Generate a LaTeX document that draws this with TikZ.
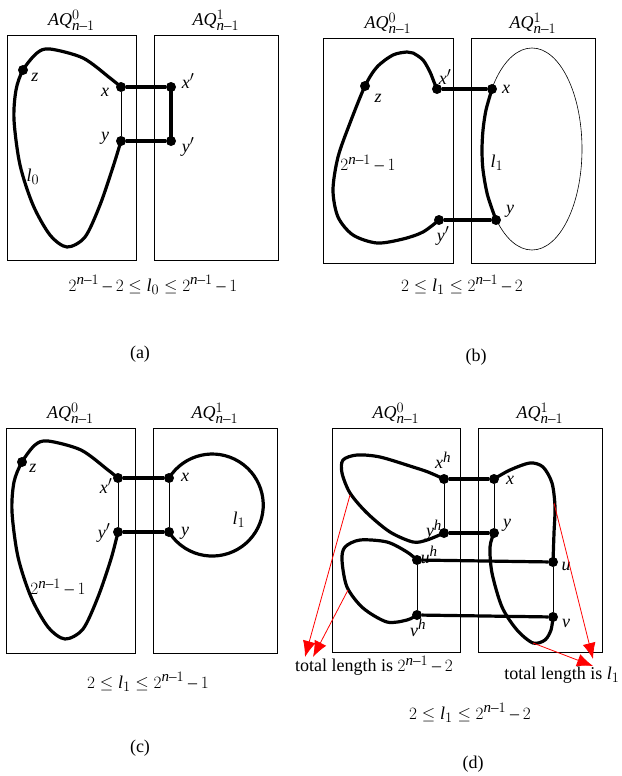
\documentclass[tikz,border=0pt]{standalone}
\usepackage{fontspec}
\setmainfont{Liberation Serif}
\usepackage[italic]{mathastext}
\usepackage{tikz}
\usetikzlibrary{arrows.meta}
\tikzset{
  halfbox/.style={draw, line width=0.8pt, inner sep=0pt},
  dot/.style={circle, fill, inner sep=0pt, minimum size=10pt},
  pathline/.style={line width=3.2pt, line join=round},
  thinline/.style={line width=0.6pt},
  lenarrow/.style={red, line width=0.8pt, -{Latex[length=16pt,width=13pt]}},
  boxtitle/.style={above=1pt},
}

\begin{document}
\begin{tikzpicture}[x=1pt, y=-1pt, every node/.style={font=\fontsize{18}{21}\selectfont}]
  \useasboundingbox (0,0) rectangle (621,776);
  % (a)
  \node[halfbox, minimum width=129pt, minimum height=225pt] (a0) at (71.5,147.5) {};
  \node[halfbox, minimum width=124pt, minimum height=225pt] (a1) at (216,147.5) {};
  \node[boxtitle] (a0-t) at (a0.north) {$AQ^0_{n-1}$};
  \node[boxtitle] (a1-t) at (a1.north) {$AQ^1_{n-1}$};
  \node[dot] (az) at (23,70) {};
  \node[dot] (ax) at (121,87) {};
  \node[dot] (ay) at (121,141) {};
  \node[dot] (axp) at (171,87) {};
  \node[dot] (ayp) at (171,141) {};
  \node (az-l) at (35,77) {$z$};
  \node (ax-l) at (105,92) {$x$};
  \node (ay-l) at (105,138) {$y$};
  \node (axp-l) at (188,81) {$x'$};
  \node (ayp-l) at (188,147) {$y'$};
  \node (al0) at (33,177) {$l_0$};
  \draw[pathline] plot[smooth] coordinates {(ax.center) (110,78) (83,58) (50,49) (37,53)
    (az.center) (16,90) (14,120) (20,165) (33,205) (50,235) (67,247) (85,237) (100,205)
    (113,167) (ay.center)};
  \draw[thinline] (ax) -- (ay);
  \draw[pathline] (ax) -- (axp);
  \draw[pathline] (ay) -- (ayp);
  \draw[pathline] (axp.center) -- (ayp.center);
  \node (acond) at (153,285) {$2^{n-1}-2\le l_0\le 2^{n-1}-1$};
  \node (acap) at (140,354) {(a)};
  % (b)
  \node[halfbox, minimum width=130pt, minimum height=225pt] (b0) at (388,150.5) {};
  \node[halfbox, minimum width=124pt, minimum height=225pt] (b1) at (533,150.5) {};
  \node[boxtitle] (b0-t) at (b0.north) {$AQ^0_{n-1}$};
  \node[boxtitle] (b1-t) at (b1.north) {$AQ^1_{n-1}$};
  \draw[thinline] (532,149) ellipse [x radius=50pt, y radius=101pt];
  \node[dot] (bz) at (365,86) {};
  \node[dot] (bxp) at (437,89) {};
  \node[dot] (bx) at (492,89) {};
  \node[dot] (by) at (496,220) {};
  \node[dot] (byp) at (439,220) {};
  \node (bz-l) at (378,98) {$z$};
  \node (bxp-l) at (445,77) {$x'$};
  \node (bx-l) at (506,89) {$x$};
  \node (by-l) at (510,211) {$y$};
  \node (byp-l) at (443,236) {$y'$};
  \node (bl1) at (497,163) {$l_1$};
  \node (b2n) at (368,163) {$2^{n-1}-1$};
  \draw[pathline] plot[smooth] coordinates {(bxp.center) (434,82) (430,72) (423,60) (413,53)
    (407,52) (393,55) (377,67) (bz.center) (350,123) (338,157) (333,190) (338,217)
    (353,235) (377,243) (403,239) (423,232) (byp.center)};
  \draw[pathline] plot[smooth] coordinates {(bx.center) (486,110) (483,130) (482,150)
    (483,170) (487.5,195) (by.center)};
  \draw[pathline] (bxp) -- (bx);
  \draw[pathline] (byp) -- (by);
  \node (bcond) at (462,285) {$2\le l_1\le 2^{n-1}-2$};
  \node (bcap) at (476,357) {(b)};
  % (c)
  \node[halfbox, minimum width=129pt, minimum height=225pt] (c0) at (70.5,540.5) {};
  \node[halfbox, minimum width=124pt, minimum height=225pt] (c1) at (215,540.5) {};
  \node[boxtitle] (c0-t) at (c0.north) {$AQ^0_{n-1}$};
  \node[boxtitle] (c1-t) at (c1.north) {$AQ^1_{n-1}$};
  \node[dot] (cz) at (22,462) {};
  \node[dot] (cxp) at (118,478) {};
  \node[dot] (cyp) at (118,532) {};
  \node[dot] (cx) at (169,478) {};
  \node[dot] (cy) at (169,532) {};
  \node (cz-l) at (33,468) {$z$};
  \node (cxp-l) at (106,486) {$x'$};
  \node (cyp-l) at (104,533) {$y'$};
  \node (cx-l) at (185,477) {$x$};
  \node (cy-l) at (185,533) {$y$};
  \node (cl1) at (239,520) {$l_1$};
  \node (c2n) at (58,587) {$2^{n-1}-1$};
  \draw[pathline] plot[smooth] coordinates {(cxp.center) (108,470) (81,450) (48,441) (35,445)
    (cz.center) (14,482) (12,512) (18,557) (31,597) (48,627) (65,639) (83,629) (98,597)
    (111,559) (cyp.center)};
  \draw[pathline] (cx.center) arc[start angle=148, end angle=-148, radius=51pt];
  \draw[thinline] (cxp) -- (cyp);
  \draw[thinline] (cx) -- (cy);
  \draw[pathline] (cxp) -- (cx);
  \draw[pathline] (cyp) -- (cy);
  \node (ccond) at (148,682) {$2\le l_1\le 2^{n-1}-1$};
  \node (ccap) at (140,748) {(c)};
  % (d)
  \node[halfbox, minimum width=128pt, minimum height=224pt] (d0) at (396,540) {};
  \node[halfbox, minimum width=124pt, minimum height=224pt] (d1) at (540,540) {};
  \node[boxtitle] (d0-t) at (d0.north) {$AQ^0_{n-1}$};
  \node[boxtitle] (d1-t) at (d1.north) {$AQ^1_{n-1}$};
  \node[dot] (dxh) at (444,479) {};
  \node[dot] (dyh) at (444,533) {};
  \node[dot] (dx) at (494,479) {};
  \node[dot] (dy) at (494,533) {};
  \node[dot] (duh) at (417,560) {};
  \node[dot] (dvh) at (417,615) {};
  \node[dot] (du) at (553,562) {};
  \node[dot] (dv) at (553,617) {};
  \node (dxh-l) at (443,460) {$x^h$};
  \node (dyh-l) at (434,530) {$y^h$};
  \node (dx-l) at (510,480) {$x$};
  \node (dy-l) at (507,525) {$y$};
  \node (duh-l) at (429,555) {$u^h$};
  \node (dvh-l) at (418,628) {$v^h$};
  \node (du-l) at (566,566) {$u$};
  \node (dv-l) at (566,623) {$v$};
  \draw[pathline] plot[smooth] coordinates {(dxh.center) (428,472) (413,467) (380,457)
    (357,455) (343,460) (342,473) (350,493) (367,513) (390,532) (413,542) (427,540)
    (dyh.center)};
  \draw[pathline] plot[smooth] coordinates {(duh.center) (407,552) (387,542) (360,540)
    (345,547) (342,560) (347,587) (363,608) (387,622) (407,620) (dvh.center)};
  \draw[pathline] plot[smooth] coordinates {(dx.center) (510,470) (530,463) (543,467)
    (552,483) (555,507) (554,533) (du.center)};
  \draw[pathline] plot[smooth] coordinates {(dy.center) (490,547) (492,573) (502,607)
    (517,630) (533,643) (545,640) (551,630) (dv.center)};
  \draw[thinline] (dxh) -- (dyh);
  \draw[thinline] (dx) -- (dy);
  \draw[thinline] (duh) -- (dvh);
  \draw[thinline] (du) -- (dv);
  \draw[pathline] (dxh) -- (dx);
  \draw[pathline] (dyh) -- (dy);
  \draw[pathline] (duh) -- (du);
  \draw[pathline] (dvh) -- (dv);
  \coordinate (dp1) at (350,495);
  \coordinate (dp2) at (348,590);
  \coordinate (dp3) at (554,503);
  \coordinate (dp4) at (533,643);
  \coordinate (dt1) at (305,657);
  \coordinate (dt2) at (313,657);
  \coordinate (dt3) at (593,659);
  \coordinate (dt4) at (593,666);
  \draw[lenarrow] (dp1) -- (dt1);
  \draw[lenarrow] (dp2) -- (dt2);
  \draw[lenarrow] (dp3) -- (dt3);
  \draw[lenarrow] (dp4) -- (dt4);
  \node (dlen0) at (374,666) {total length is $2^{n-1}-2$};
  \node (dlen1) at (562,675) {total length is $l_1$};
  \node (dcond) at (470,713) {$2\le l_1\le 2^{n-1}-2$};
  \node (dcap) at (473,764) {(d)};
\end{tikzpicture}
\end{document}
